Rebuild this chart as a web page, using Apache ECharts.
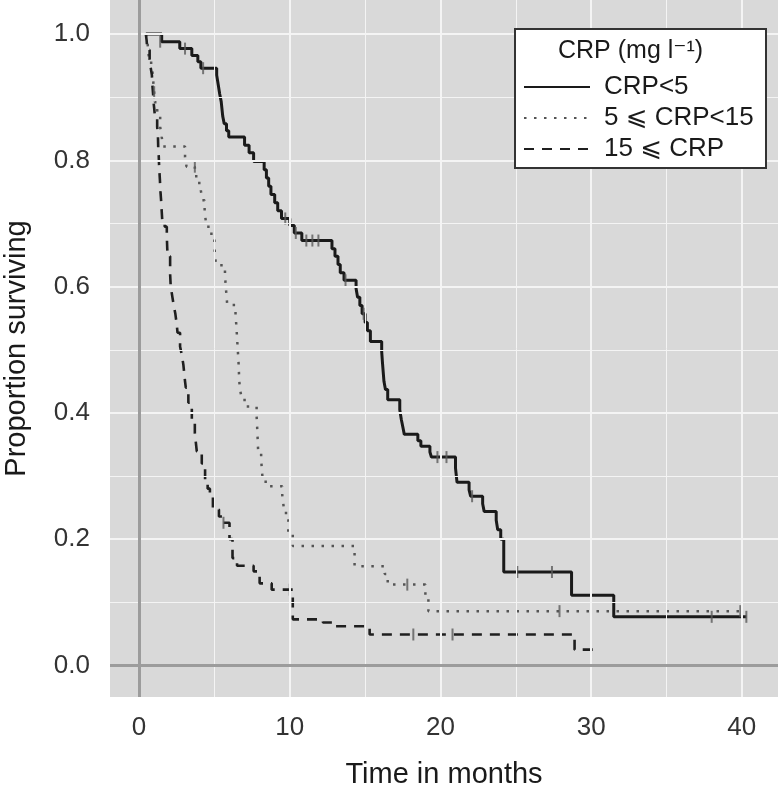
<!DOCTYPE html>
<html>
<head>
<meta charset="utf-8">
<script src="https://cdn.jsdelivr.net/npm/echarts@6/dist/echarts.min.js"></script>
<style>
html,body{margin:0;padding:0;background:#fff;}
#chart{width:782px;height:789px;}
</style>
</head>
<body>
<div id="chart"></div>
<script>
// ---- data ----
const seriesNames = ['CRP<5', '5 \u2A7D CRP<15', '15 \u2A7D CRP'];
const legendTitle = 'CRP (mg l\u207B\u00B9)';
const xTicks = [0, 10, 20, 30, 40];
const xMinor = [5, 15, 25, 35];
const yTicks = [0, 0.2, 0.4, 0.6, 0.8, 1.0];
const yMinor = [0.1, 0.3, 0.5, 0.7, 0.9];

const crpLow = [
  [0.45,1.0],[1.5,0.988],[2.7,0.977],[3.5,0.966],[3.9,0.956],[4.1,0.946],[5.15,0.935],[5.25,0.92],
  [5.35,0.905],[5.45,0.893],[5.55,0.87],[5.65,0.858],[5.8,0.847],[5.95,0.837],[7.0,0.824],[7.3,0.812],
  [7.6,0.798],[8.3,0.785],[8.45,0.772],[8.6,0.759],[8.75,0.746],[9.0,0.733],[9.2,0.72],[9.45,0.708],
  [10.0,0.697],[10.3,0.685],[10.8,0.673],[12.8,0.66],[13.0,0.648],[13.2,0.635],[13.35,0.622],[13.6,0.61],
  [14.4,0.597],[14.5,0.583],[14.65,0.57],[14.8,0.557],[15.0,0.543],[15.15,0.53],[15.35,0.513],[16.1,0.497],
  [16.15,0.48],[16.2,0.465],[16.25,0.45],[16.35,0.437],[16.5,0.421],[17.3,0.405],[17.4,0.39],[17.5,0.378],
  [17.6,0.366],[18.5,0.356],[18.7,0.347],[19.3,0.338],[19.4,0.33],[21.0,0.312],[21.1,0.29],[21.9,0.278],
  [22.0,0.268],[22.8,0.256],[22.9,0.244],[23.7,0.23],[23.8,0.215],[24.0,0.2],[24.2,0.148],[28.7,0.111],
  [31.5,0.077],[40.3,0.077]
];
const crpMid = [
  [0.45,1.0],[0.55,0.99],[0.6,0.975],[0.65,0.963],[0.8,0.95],[0.9,0.938],[0.95,0.922],[1.0,0.908],
  [1.05,0.892],[1.2,0.88],[1.25,0.87],[1.4,0.853],[1.5,0.837],[1.6,0.822],[3.05,0.805],[3.15,0.79],
  [3.7,0.775],[3.9,0.764],[4.1,0.752],[4.2,0.737],[4.35,0.718],[4.45,0.70],[4.6,0.69],[4.8,0.676],
  [5.0,0.663],[5.05,0.648],[5.1,0.634],[5.7,0.62],[5.75,0.6],[5.8,0.587],[5.85,0.571],[6.4,0.555],
  [6.45,0.54],[6.5,0.52],[6.55,0.5],[6.6,0.48],[6.65,0.45],[6.7,0.437],[6.8,0.424],[7.0,0.41],
  [7.8,0.395],[7.85,0.37],[7.9,0.34],[8.1,0.326],[8.15,0.31],[8.2,0.294],[8.4,0.284],[9.5,0.27],
  [9.6,0.25],[9.75,0.23],[9.9,0.21],[10.2,0.189],[14.3,0.157],[16.3,0.145],[16.5,0.128],[19.0,0.11],
  [19.2,0.086],[39.9,0.086]
];
const crpHigh = [
  [0.45,1.0],[0.5,0.99],[0.55,0.975],[0.7,0.96],[0.75,0.95],[0.85,0.935],[0.88,0.92],[0.93,0.905],
  [0.95,0.895],[1.0,0.883],[1.05,0.87],[1.2,0.853],[1.25,0.84],[1.27,0.82],[1.3,0.81],[1.33,0.79],
  [1.38,0.77],[1.42,0.75],[1.46,0.737],[1.5,0.72],[1.55,0.70],[1.7,0.695],[1.84,0.68],[1.87,0.66],
  [1.9,0.648],[2.06,0.62],[2.1,0.6],[2.2,0.585],[2.3,0.57],[2.4,0.558],[2.5,0.54],[2.55,0.527],
  [2.72,0.505],[2.85,0.49],[2.94,0.476],[3.05,0.45],[3.1,0.44],[3.27,0.416],[3.5,0.39],[3.7,0.368],
  [3.83,0.339],[4.16,0.32],[4.38,0.294],[4.55,0.28],[4.7,0.268],[4.9,0.247],[5.3,0.236],[5.6,0.226],
  [6.0,0.2],[6.2,0.17],[6.5,0.158],[7.6,0.149],[8.0,0.13],[8.8,0.12],[10.2,0.073],[12.2,0.068],
  [12.9,0.062],[15.3,0.049],[28.9,0.025],[30.5,0.025]
];
const censorLow = [[1.4,0.988],[3.05,0.977],[4.25,0.946],[9.7,0.708],[10.4,0.685],[11.1,0.673],[11.5,0.673],
  [11.9,0.673],[13.7,0.61],[14.9,0.557],[19.8,0.33],[20.4,0.33],[22.1,0.268],[25.1,0.148],[27.4,0.148],
  [38.0,0.077],[40.3,0.077]];
const censorMid = [[1.0,0.908],[3.7,0.79],[17.8,0.128],[27.9,0.086],[39.9,0.086]];
const censorHigh = [[5.6,0.226],[10.0,0.12],[18.2,0.049],[20.8,0.049]];

// ---- chart ----
const FONT = '"Liberation Sans", Arial, "DejaVu Sans", sans-serif';
const chart = echarts.init(document.getElementById('chart'), null, {renderer: 'canvas'});

const styles = [
  {color: '#1a1a1a', width: 3, type: 'solid'},
  {color: '#555555', width: 2.5, type: [2.5, 7.5]},
  {color: '#1f1f1f', width: 2.6, type: [10, 8]}
];
const curves = [crpLow, crpMid, crpHigh];
const censors = [censorLow, censorMid, censorHigh];

const gridLine = (axis, vals, w) => vals.map(v => ({[axis]: v, lineStyle: {color: '#f4f4f4', width: w, type: 'solid'}}));

const series = [
  {
    name: '_grid', type: 'line', data: [], z: 1, silent: true,
    markLine: {
      silent: true, symbol: ['none', 'none'], label: {show: false}, animation: false,
      data: [].concat(
        gridLine('xAxis', xMinor, 1), gridLine('yAxis', yMinor, 1),
        gridLine('xAxis', xTicks, 2), gridLine('yAxis', yTicks, 2),
        [{xAxis: 0, lineStyle: {color: '#9c9c9c', width: 3, type: 'solid'}},
         {yAxis: 0, lineStyle: {color: '#9c9c9c', width: 3, type: 'solid'}}]
      )
    }
  }
];
curves.forEach((d, i) => {
  series.push({
    name: seriesNames[i], type: 'line', step: 'end', data: d, symbol: 'none', z: 3,
    lineStyle: {color: styles[i].color, width: styles[i].width, type: styles[i].type},
    itemStyle: {color: styles[i].color},
    animation: false
  });
  series.push({
    name: '_c' + i, type: 'scatter', data: censors[i], symbol: 'rect', symbolSize: [2, 12], z: 4,
    itemStyle: {color: '#5a5a5a'}, animation: false, silent: true
  });
});

chart.setOption({
  animation: false,
  backgroundColor: '#ffffff',
  grid: {left: 110, right: 4, top: 0, bottom: 92, show: true, backgroundColor: '#d9d9d9', borderWidth: 0,
    containLabel: false, outerBoundsMode: 'none'},
  xAxis: {
    type: 'value', min: -1.93, max: 42.4,
    name: 'Time in months', nameLocation: 'middle', nameGap: 63,
    nameTextStyle: {fontFamily: FONT, fontSize: 29, color: '#1a1a1a'},
    axisLine: {show: false},
    axisTick: {show: true, customValues: xTicks, length: 6, lineStyle: {color: '#333', width: 2}},
    axisLabel: {customValues: xTicks, fontFamily: FONT, fontSize: 26, color: '#333', margin: 18},
    splitLine: {show: false}
  },
  yAxis: {
    type: 'value', min: -0.05, max: 1.054,
    name: 'Proportion surviving', nameLocation: 'middle', nameGap: 79, nameRotate: 90,
    nameTextStyle: {fontFamily: FONT, fontSize: 29, color: '#1a1a1a'},
    axisLine: {show: false},
    axisTick: {show: true, customValues: yTicks, length: 6, lineStyle: {color: '#333', width: 2}},
    axisLabel: {customValues: yTicks, fontFamily: FONT, fontSize: 26, color: '#333', margin: 20,
      formatter: v => Number(v).toFixed(1)},
    splitLine: {show: false}
  },
  legend: {
    data: seriesNames, orient: 'vertical', left: 514, top: 28,
    padding: [44, 10, 5, 9], itemWidth: 66, itemHeight: 14, itemGap: 1,
    itemStyle: {color: 'rgba(0,0,0,0)', borderWidth: 0, opacity: 0},
    textStyle: {fontFamily: FONT, fontSize: 26, color: '#1a1a1a', lineHeight: 30, padding: [0, 0, 0, 9]},
    selectedMode: false, z: 20
  },
  graphic: [
    {type: 'rect', left: 514, top: 28, z: 15, shape: {width: 251, height: 139},
      style: {fill: '#ffffff', stroke: '#333333', lineWidth: 2}},
    {type: 'text', left: 558, top: 39, z: 21,
      style: {text: legendTitle, font: '25px ' + FONT, fill: '#1a1a1a'}}
  ],
  series: series
});
</script>
</body>
</html>
